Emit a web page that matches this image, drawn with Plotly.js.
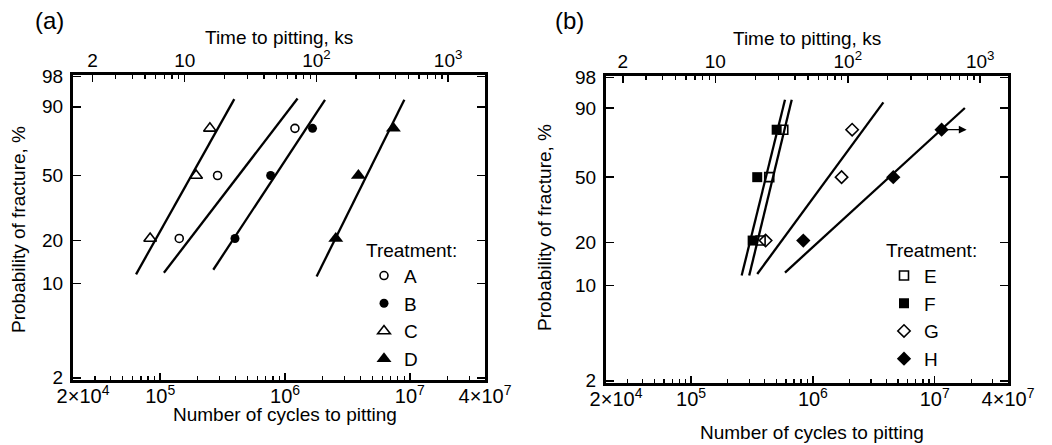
<!DOCTYPE html>
<html>
<head>
<meta charset="utf-8">
<script src="https://cdn.plot.ly/plotly-3.0.1.min.js"></script>
<style>html,body{margin:0;padding:0;background:#fff}#chart{width:1052px;height:445px}</style>
</head>
<body>
<div id="chart"></div>
<script>
// ---------- data ----------
const probTicks = [2, 10, 20, 50, 90, 98];               // probability of fracture, %
const probTickText = ['2', '10', '20', '50', '90', '98'];
const cycleTickVals = [2e4, 1e5, 1e6, 1e7, 4e7];
const cycleTickText = ['\u2002\u20022\u00D710<sup>4</sup>', '10<sup>5</sup>', '10<sup>6</sup>', '10<sup>7</sup>', '4\u00D710<sup>7</sup>'];
const cycleMinor = [3e4,4e4,5e4,6e4,7e4,8e4,9e4, 2e5,3e5,4e5,5e5,6e5,7e5,8e5,9e5, 2e6,3e6,4e6,5e6,6e6,7e6,8e6,9e6, 2e7,3e7];
const timeTickVals = [2, 10, 100, 1000];
const timeTickText = ['2', '10', '10<sup>2</sup>', '10<sup>3</sup>'];
const timeMinor = [3,4,5,6,7,8,9, 20,30,40,50,60,70,80,90, 200,300,400,500,600,700,800,900];

const rankProb = [20.6, 50, 79.4];   // plotted probability of each specimen, %

// panel (a)
const cyclesA = [1.42e5, 2.88e5, 1.20e6];
const cyclesB = [3.97e5, 7.67e5, 1.66e6];
const cyclesC = [8.3e4, 1.94e5, 2.50e5];
const cyclesD = [2.55e6, 3.87e6, 7.38e6];
const fitA_cycles = [1.07e5, 1.26e6], fitA_prob = [11.9, 93.0];
const fitB_cycles = [2.66e5, 2.09e6], fitB_prob = [12.5, 92.6];
const fitC_cycles = [6.40e4, 3.92e5], fitC_prob = [11.6, 92.8];
const fitD_cycles = [1.79e6, 9.03e6], fitD_prob = [11.2, 92.6];

// panel (b)
const cyclesE = [3.72e5, 4.38e5, 5.71e5];
const cyclesF = [3.20e5, 3.49e5, 5.04e5];
const cyclesG = [4.09e5, 1.72e6, 2.10e6];
const cyclesH = [8.34e5, 4.57e6, 1.14e7];
const fitE_cycles = [3.00e5, 6.70e5], fitE_prob = [11.8, 93.0];
const fitF_cycles = [2.60e5, 5.90e5], fitF_prob = [11.8, 93.0];
const fitG_cycles = [3.49e5, 3.79e6], fitG_prob = [12.1, 92.1];
const fitH_cycles = [5.90e5, 1.77e7], fitH_prob = [12.4, 90.0];
const runoutH_cycles = [1.20e7, 1.83e7];   // arrow tail, head
const runoutH_prob = 79.4;

// ---------- helpers ----------
const W = 1052, H = 445;
const weib = p => Math.log(-Math.log(1 - p / 100));   // Weibull probability scale
const FONT = '"Liberation Sans", Arial, Helvetica, sans-serif';

function pts(name, xs, symbol, size, filled, xa, ya, leg) {
  return {
    type: 'scatter', mode: 'markers', name: name,
    x: xs, y: rankProb.map(weib), xaxis: xa, yaxis: ya, legend: leg,
    marker: { symbol: symbol, size: size, color: '#000',
              line: { color: '#000', width: filled ? 0 : 1.6 } },
    cliponaxis: false
  };
}
function fit(xs, ps, xa, ya) {
  return {
    type: 'scatter', mode: 'lines', x: xs, y: ps.map(weib), xaxis: xa, yaxis: ya,
    line: { color: '#000', width: 2.3 }, showlegend: false, hoverinfo: 'skip'
  };
}

const traces = [
  fit(fitC_cycles, fitC_prob, 'x', 'y'),
  fit(fitA_cycles, fitA_prob, 'x', 'y'),
  fit(fitB_cycles, fitB_prob, 'x', 'y'),
  fit(fitD_cycles, fitD_prob, 'x', 'y'),
  pts('A', cyclesA, 'circle-open', 8, false, 'x', 'y', 'legend'),
  pts('B', cyclesB, 'circle', 9, true, 'x', 'y', 'legend'),
  pts('C', cyclesC, 'triangle-up-open', 11, false, 'x', 'y', 'legend'),
  pts('D', cyclesD, 'triangle-up', 13, true, 'x', 'y', 'legend'),
  { type: 'scatter', x: [], y: [], xaxis: 'x2', yaxis: 'y', showlegend: false },

  fit(fitF_cycles, fitF_prob, 'x3', 'y2'),
  fit(fitE_cycles, fitE_prob, 'x3', 'y2'),
  fit(fitG_cycles, fitG_prob, 'x3', 'y2'),
  fit(fitH_cycles, fitH_prob, 'x3', 'y2'),
  pts('E', cyclesE, 'square-open', 9, false, 'x3', 'y2', 'legend2'),
  pts('F', cyclesF, 'square', 10, true, 'x3', 'y2', 'legend2'),
  pts('G', cyclesG, 'diamond-open', 9.5, false, 'x3', 'y2', 'legend2'),
  pts('H', cyclesH, 'diamond', 11, true, 'x3', 'y2', 'legend2'),
  { type: 'scatter', x: [], y: [], xaxis: 'x4', yaxis: 'y2', showlegend: false }
];

const yRange = [-3.94, 1.39];
const axLine = { showline: true, linecolor: '#000', linewidth: 3, showgrid: false, zeroline: false };
function cycleAxis(domain, anchor) {
  return Object.assign({}, axLine, {
    type: 'log', domain: domain, anchor: anchor,
    range: [Math.log10(2e4), Math.log10(4e7)],
    tickmode: 'array', tickvals: cycleTickVals, ticktext: cycleTickText,
    ticks: 'inside', ticklen: 7, tickwidth: 1.5, tickcolor: '#000',
    minor: { tickmode: 'array', tickvals: cycleMinor, ticks: 'inside', ticklen: 4, tickwidth: 1.3, tickcolor: '#000', showgrid: false },
    tickfont: { size: 20, color: '#000' }, ticklabelstandoff: -4, fixedrange: true
  });
}
function timeAxis(over, anchor, rng) {
  return Object.assign({}, axLine, {
    type: 'log', overlaying: over, anchor: anchor, side: 'top', range: rng,
    tickmode: 'array', tickvals: timeTickVals, ticktext: timeTickText,
    ticks: 'inside', ticklen: 7, tickwidth: 1.5, tickcolor: '#000',
    minor: { tickmode: 'array', tickvals: timeMinor, ticks: 'inside', ticklen: 4, tickwidth: 1.3, tickcolor: '#000', showgrid: false },
    tickfont: { size: 19, color: '#000' }, ticklabelstandoff: -3, fixedrange: true
  });
}
function probAxis(domain, anchor) {
  return Object.assign({}, axLine, {
    domain: domain, anchor: anchor, range: yRange, mirror: 'ticks',
    tickmode: 'array', tickvals: probTicks.map(weib), ticktext: probTickText,
    ticks: 'inside', ticklen: 8, tickwidth: 1.5, tickcolor: '#000',
    tickfont: { size: 19, color: '#000' }, ticklabelstandoff: 3, fixedrange: true
  });
}

const px = v => v / W, py = v => 1 - v / H;
function txt(t, x, y, size, opts) {
  return Object.assign({ text: t, x: px(x), y: py(y), xref: 'paper', yref: 'paper',
    showarrow: false, font: { size: size, color: '#000', family: FONT },
    xanchor: 'center', yanchor: 'middle' }, opts || {});
}

const legendBase = {
  xanchor: 'left', yanchor: 'top', bgcolor: 'rgba(0,0,0,0)', borderwidth: 0,
  font: { size: 19, color: '#000', family: FONT },
  title: { text: 'Treatment:', font: { size: 19, color: '#000', family: FONT } },
  itemwidth: 30, tracegroupgap: 0
};

const layout = {
  width: W, height: H, margin: { l: 0, r: 0, t: 0, b: 0, pad: 0 },
  paper_bgcolor: '#fff', plot_bgcolor: '#fff',
  font: { family: FONT, color: '#000' },
  xaxis: cycleAxis([px(73), px(485)], 'y'),
  xaxis2: timeAxis('x', 'y', [0.152, 3.28]),
  yaxis: probAxis([py(380), py(75)], 'x'),
  xaxis3: cycleAxis([px(606), px(1008)], 'y2'),
  xaxis4: timeAxis('x3', 'y2', [0.174, 3.21]),
  yaxis2: probAxis([py(383), py(76)], 'x3'),
  legend: Object.assign({}, legendBase, { x: px(364), y: py(232) }),
  legend2: Object.assign({}, legendBase, { x: px(884), y: py(232) }),
  showlegend: true,
  annotations: [
    txt('(a)', 33, 21, 24, { xanchor: 'left' }),
    txt('(b)', 553, 21, 24, { xanchor: 'left' }),
    txt('Time to pitting, ks', 279, 37, 19),
    txt('Time to pitting, ks', 807, 38, 19),
    txt('Number of cycles to pitting', 285, 414, 19),
    txt('Number of cycles to pitting', 812, 432, 19),
    txt('Probability of fracture, %', 18, 230, 19, { textangle: -90 }),
    txt('Probability of fracture, %', 545, 228, 19, { textangle: -90 }),
    { x: Math.log10(runoutH_cycles[1]), y: weib(runoutH_prob), xref: 'x3', yref: 'y2',
      ax: Math.log10(runoutH_cycles[0]), ay: weib(runoutH_prob), axref: 'x3', ayref: 'y2',
      text: '', showarrow: true, arrowhead: 2, arrowsize: 1.3, arrowwidth: 1.2, arrowcolor: '#000', standoff: 0 }
  ]
};

Plotly.newPlot('chart', traces, layout, { displayModeBar: false, staticPlot: true });
</script>
</body>
</html>
